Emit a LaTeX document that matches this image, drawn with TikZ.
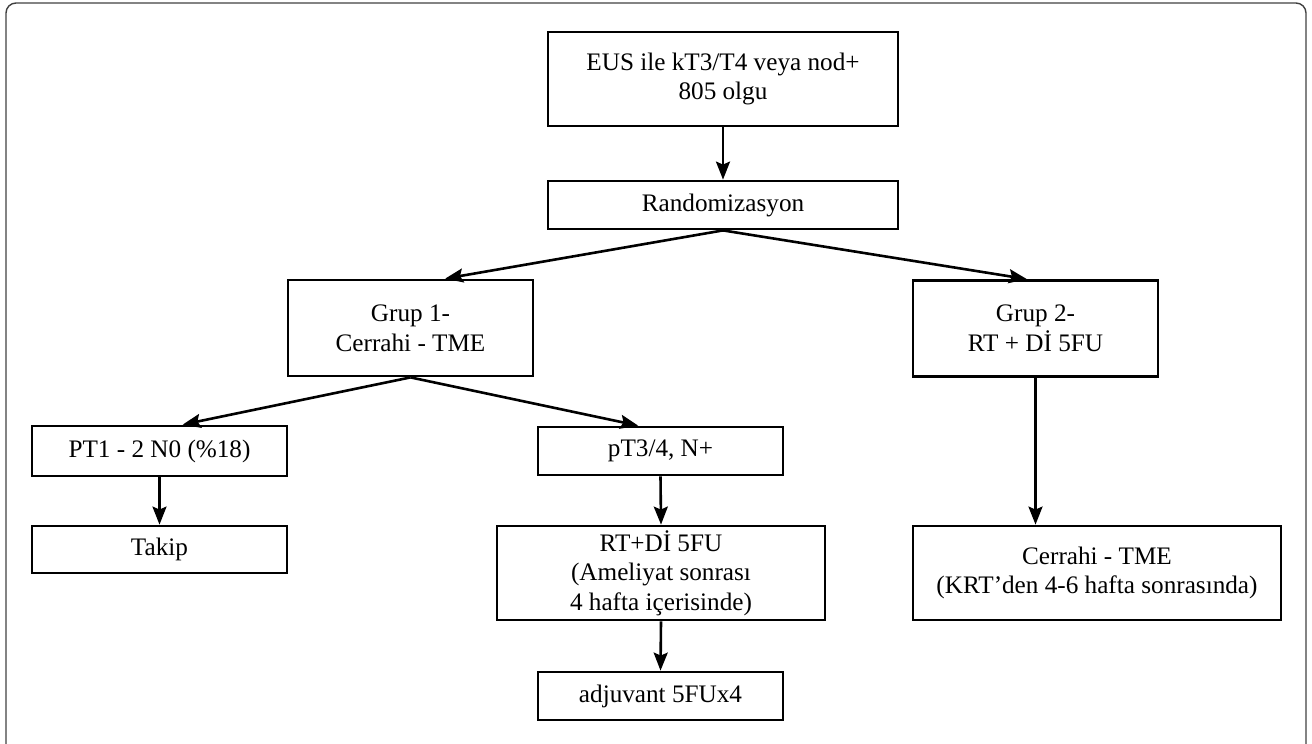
\documentclass[tikz,border=0pt]{standalone}
\usepackage{fontspec}
\setmainfont{Liberation Serif}
\usetikzlibrary{arrows.meta,calc}

\begin{document}
\begin{tikzpicture}[x=0.5pt,y=-0.5pt,>={Stealth[length=9pt,width=7pt,inset=1.5pt]},
  box/.style={draw,line width=1.4pt,align=center,inner sep=0pt,font=\fontsize{12.6}{14.8}\selectfont},
  flow/.style={->,line width=1.3pt}]
\useasboundingbox (0,0) rectangle (1312,744);
\draw[black!75,line width=0.7pt,rounded corners=5pt] (6,760) -- (6,3) -- (1306,3) -- (1306,760);

\node[box,minimum width=175pt,minimum height=47pt] (eus) at (723,79) {EUS ile kT3/T4 veya nod+\\805 olgu};
\node[box,minimum width=175pt,minimum height=24pt] (rand) at (723,205) {Randomizasyon};

\node[box,minimum width=122.5pt,minimum height=48pt] (grup1) at (410.5,328) {Grup 1-\\Cerrahi - TME};
\node[box,minimum width=122.5pt,minimum height=48pt] (grup2) at (1035.5,328.5) {Grup 2-\\RT + Dİ 5FU};

\node[box,minimum width=127.5pt,minimum height=25pt] (pt1) at (159.5,451) {PT1 - 2 N0 (\%18)};
\node[box,minimum width=122.5pt,minimum height=24pt] (pt34) at (660.5,451) {pT3/4, N+};
\node[box,minimum width=127.5pt,minimum height=23.5pt] (takip) at (159.5,549.5) {Takip};
\node[box,minimum width=164pt,minimum height=47pt] (rtdi) at (661,573) {RT+Dİ 5FU\\(Ameliyat sonrası\\4 hafta içerisinde)};
\node[box,minimum width=122.5pt,minimum height=24pt] (adj) at (660.5,696) {adjuvant 5FUx4};
\node[box,minimum width=184pt,minimum height=47pt] (cerr2) at (1097,573) {Cerrahi - TME\\(KRT’den 4-6 hafta sonrasında)};

\draw[flow] (eus.south) -- (rand.north);
\draw[flow] (rand.south) -- ($(grup1.north west)!0.64!(grup1.north east)$);
\draw[flow] (rand.south) -- ($(grup2.north west)!0.465!(grup2.north east)$);
\draw[flow] (grup1.south) -- ($(pt1.north west)!0.59!(pt1.north east)$);
\draw[flow] (grup1.south) -- ($(pt34.north west)!0.41!(pt34.north east)$);
\draw[flow] (pt1.south) -- (takip.north);
\draw[flow] (pt34.south) -- (rtdi.north);
\draw[flow] (rtdi.south) -- (adj.north);
\draw[flow] (grup2.south) -- (grup2.south |- cerr2.north);
\end{tikzpicture}
\end{document}
